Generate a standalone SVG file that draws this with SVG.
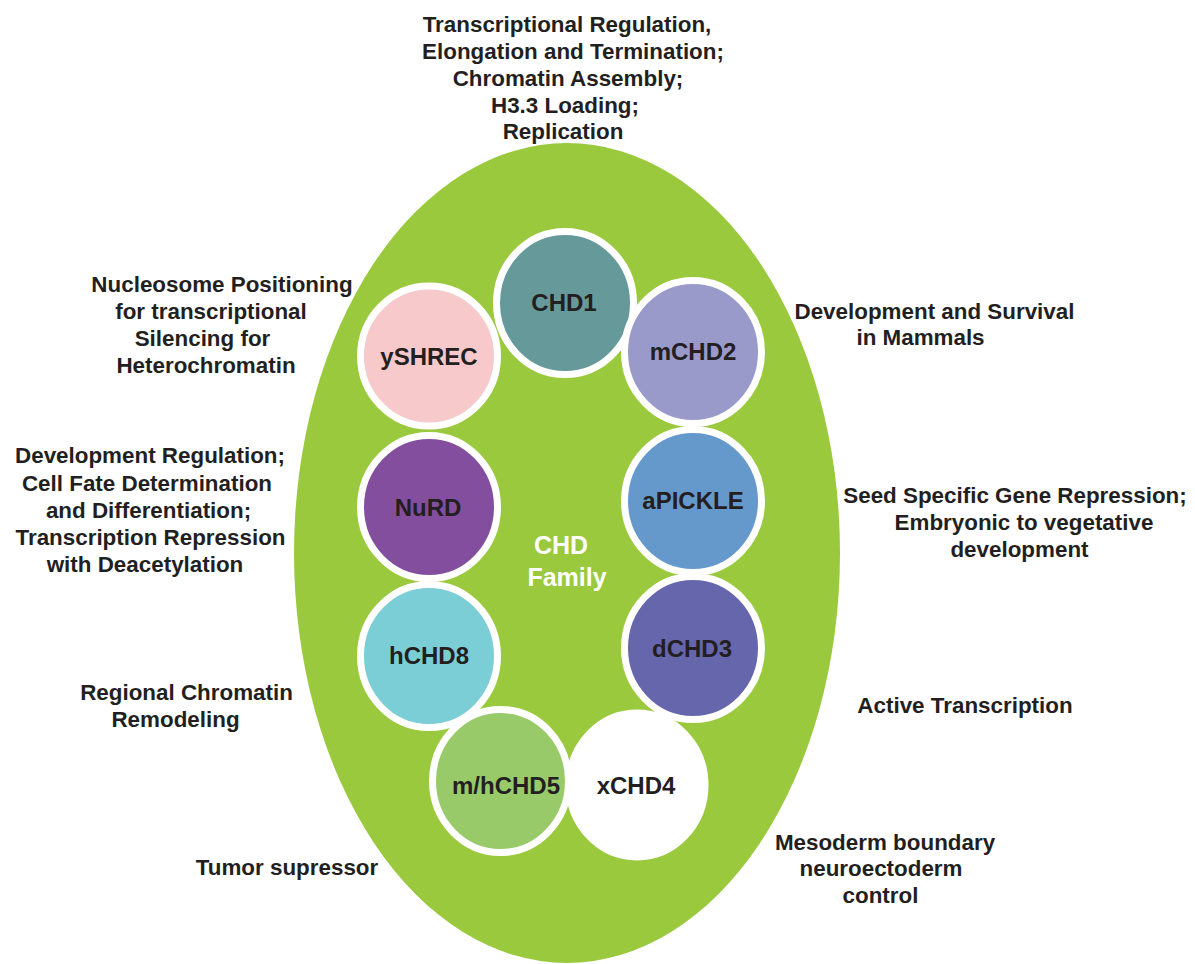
<svg xmlns="http://www.w3.org/2000/svg" width="1195" height="964" viewBox="0 0 1195 964">
<style>
.lbl{font-family:"Liberation Sans",Arial,sans-serif;font-weight:bold;font-size:22.4px;fill:#231F20;text-anchor:middle}
.nd{stroke:#FFFFFF;stroke-width:7}
.nt{font-family:"Liberation Sans",Arial,sans-serif;font-weight:bold;font-size:24px;fill:#231F20;text-anchor:middle}
.ct{font-family:"Liberation Sans",Arial,sans-serif;font-weight:bold;font-size:25px;fill:#FFFFFF;text-anchor:middle}
</style>
<rect width="1195" height="964" fill="#FFFFFF"/>
<g id="family">
<ellipse cx="567" cy="553" rx="273" ry="410" fill="#9AC93E"/>
<text class="ct" x="561" y="554">CHD</text>
<text class="ct" x="567" y="586">Family</text>
</g>
<g id="connectors"></g>
<g id="xCHD4">
<ellipse class="nd" cx="637" cy="785" rx="68" ry="72" fill="#FFFFFF"/>
<text class="nt" x="636" y="794">xCHD4</text>
</g>
<g id="ySHREC">
<ellipse class="nd" cx="429" cy="356" rx="68.5" ry="70" fill="#F7C9CB"/>
<text class="nt" x="429" y="365">ySHREC</text>
</g>
<g id="CHD1">
<ellipse class="nd" cx="565" cy="303" rx="68.5" ry="71.5" fill="#66999A"/>
<text class="nt" x="564" y="311">CHD1</text>
</g>
<g id="mCHD2">
<ellipse class="nd" cx="693" cy="352" rx="68.5" ry="71.5" fill="#9999CA"/>
<text class="nt" x="693" y="360">mCHD2</text>
</g>
<g id="NuRD">
<ellipse class="nd" cx="429" cy="507" rx="68.5" ry="71.5" fill="#844E9F"/>
<text class="nt" x="428" y="516">NuRD</text>
</g>
<g id="aPICKLE">
<ellipse class="nd" cx="693" cy="501" rx="68.5" ry="71.5" fill="#6699CB"/>
<text class="nt" x="693" y="509">aPICKLE</text>
</g>
<g id="hCHD8">
<ellipse class="nd" cx="429" cy="656" rx="68.5" ry="71.5" fill="#7BCED5"/>
<text class="nt" x="429" y="664">hCHD8</text>
</g>
<g id="dCHD3">
<ellipse class="nd" cx="693" cy="648" rx="68.5" ry="71.5" fill="#6666AD"/>
<text class="nt" x="692" y="657">dCHD3</text>
</g>
<g id="mhCHD5">
<ellipse class="nd" cx="500.5" cy="781" rx="68" ry="71.5" fill="#99CA6A"/>
<text class="nt" x="506" y="794">m/hCHD5</text>
</g>
<g id="labels">
<text class="lbl" x="567" y="32">Transcriptional Regulation,</text>
<text class="lbl" x="573" y="59">Elongation and Termination;</text>
<text class="lbl" x="568" y="86">Chromatin Assembly;</text>
<text class="lbl" x="565" y="113">H3.3 Loading;</text>
<text class="lbl" x="563" y="139">Replication</text>

<text class="lbl" x="222" y="292">Nucleosome Positioning</text>
<text class="lbl" x="211" y="319">for transcriptional</text>
<text class="lbl" x="202.5" y="346">Silencing for</text>
<text class="lbl" x="206" y="373">Heterochromatin</text>

<text class="lbl" x="150" y="463">Development Regulation;</text>
<text class="lbl" x="147" y="491">Cell Fate Determination</text>
<text class="lbl" x="148.5" y="518">and Differentiation;</text>
<text class="lbl" x="150.5" y="545">Transcription Repression</text>
<text class="lbl" x="145" y="572">with Deacetylation</text>

<text class="lbl" x="186.5" y="700">Regional Chromatin</text>
<text class="lbl" x="175.5" y="727">Remodeling</text>

<text class="lbl" x="287" y="875">Tumor supressor</text>

<text class="lbl" x="934.5" y="319">Development and Survival</text>
<text class="lbl" x="920.5" y="345">in Mammals</text>

<text class="lbl" x="1015" y="503">Seed Specific Gene Repression;</text>
<text class="lbl" x="1024" y="530">Embryonic to vegetative</text>
<text class="lbl" x="1019.5" y="557">development</text>

<text class="lbl" x="965" y="713">Active Transcription</text>

<text class="lbl" x="885" y="850">Mesoderm boundary</text>
<text class="lbl" x="881" y="876">neuroectoderm</text>
<text class="lbl" x="880.5" y="903">control</text>
</g>
</svg>
